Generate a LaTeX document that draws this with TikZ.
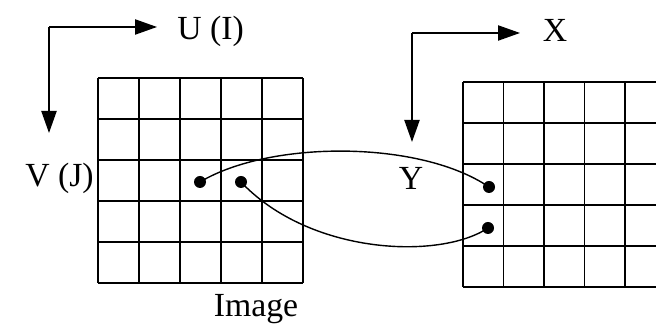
\documentclass[tikz,border=0pt]{standalone}
\usepackage{fontspec}
\setmainfont{Liberation Serif}
\usetikzlibrary{arrows.meta}
\tikzset{
  gridline/.style={line width=1.3pt, draw=black},
  axis/.style={line width=1.1pt, draw=black, -{Triangle[length=0.55cm, width=0.38cm]}},
  link/.style={line width=1pt, draw=black},
  pixel/.style={circle, fill=black, inner sep=0pt, minimum size=0.3cm},
  axislabel/.style={font=\fontsize{24}{28}\selectfont, inner sep=0pt},
}

\begin{document}
\begin{tikzpicture}
\clip (0,0) rectangle (16.4,8.125);
\useasboundingbox (0,0) rectangle (16.4,8.125);
% source image grid
\draw[gridline, shift={(2.45,1.05)}] (0,0) grid[step=1.025] (5.126,5.126);
% target grid, runs past the right edge
\draw[gridline, shift={(11.575,0.95)}] (0,0) grid[xstep=1.0125, ystep=1.025] (5.3,5.126);
% axes
\coordinate (uvorigin) at (1.225,7.45);
\coordinate (uend) at (3.925,7.45);
\coordinate (vend) at (1.225,4.8);
\draw[axis] (uvorigin) -- (uend);
\draw[axis] (uvorigin) -- (vend);
\coordinate (xyorigin) at (10.3,7.3);
\coordinate (xend) at (13.0,7.3);
\coordinate (yend) at (10.3,4.575);
\draw[axis] (xyorigin) -- (xend);
\draw[axis] (xyorigin) -- (yend);
\node[axislabel, anchor=base west] (ulabel) at (4.425,7.125) {U (I)};
\node[axislabel, anchor=base west] (vlabel) at (0.625,3.45) {V (J)};
\node[axislabel, anchor=base] (xlabel) at (13.875,7.075) {X};
\node[axislabel, anchor=base] (ylabel) at (10.275,3.375) {Y};
\node[axislabel, anchor=base] (imagelabel) at (6.4,0.2) {Image};
% mapped pixels
\node[pixel] (srcA) at (5.0,3.575) {};
\node[pixel] (srcB) at (6.025,3.575) {};
\node[pixel] (dstA) at (12.225,3.45) {};
\node[pixel] (dstB) at (12.2,2.425) {};
\draw[link] (srcA.center) .. controls (6.75,4.625) and (10.5,4.625) .. (dstA.center);
\draw[link] (srcB.center) .. controls (7.75,1.75) and (11.0,1.625) .. (dstB.center);
\end{tikzpicture}
\end{document}
